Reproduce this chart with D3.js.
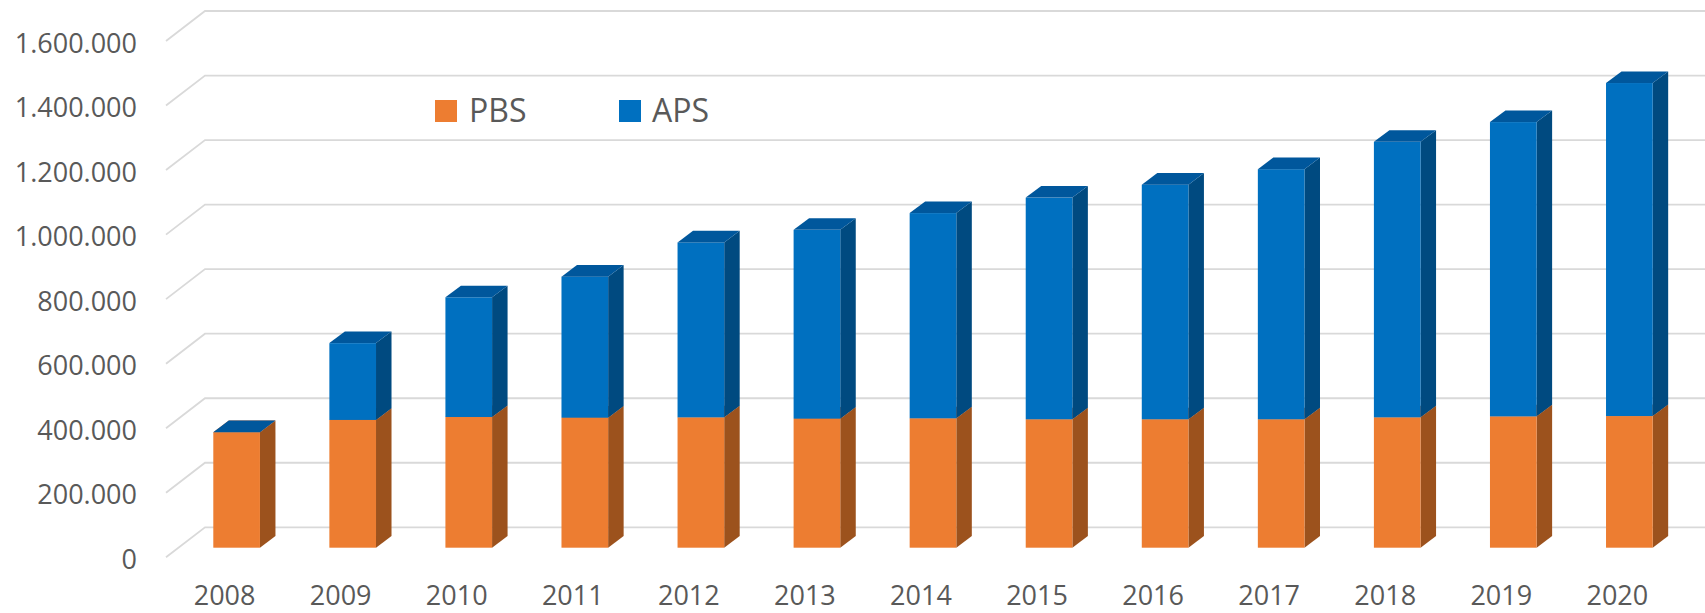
<!DOCTYPE html>
<html>
<head>
<meta charset="utf-8">
<script src="https://cdn.jsdelivr.net/npm/d3@7/dist/d3.min.js"></script>
<style>
  html, body { margin: 0; padding: 0; background: #fff; }
  svg { display: block; }
  text { font-family: "Open Sans", "Noto Sans", sans-serif; fill: #595959; }
</style>
</head>
<body>
<svg id="chart" width="1705" height="613"></svg>
<script>
// ---- data ----
const years = ["2008","2009","2010","2011","2012","2013","2014","2015","2016","2017","2018","2019","2020"];
const PBS = [358000, 396000, 405000, 403000, 404000, 400000, 401000, 398000, 398000, 398000, 404000, 407000, 408000];
const APS = [0, 238000, 371000, 437000, 542000, 585000, 636000, 687000, 727000, 775000, 854000, 912000, 1032000];
const yTicks = [0, 200000, 400000, 600000, 800000, 1000000, 1200000, 1400000, 1600000];
const seriesNames = ["PBS", "APS"];

const colors = {
  PBS: { front: "#ED7D31", side: "#9C521D", top: "#C7652A" },
  APS: { front: "#0070C0", side: "#004A80", top: "#00579C" }
};

const svg = d3.select("#chart");

// back wall value scale
const yWall = d3.scaleLinear().domain([0, 1600000]).range([527.3, 11]);
// wall / floor depth
const wallX = 205, wallFrontX = 166, wallDY = 30;
// bar plane offsets
const barFrontOff = 20.4;   // bar front plane below the wall
const barDX = 15.5, barDY = 11.6; // bar depth projection

const x = d3.scaleBand().domain(years).range([178.6, 178.6 + 13 * 116.06])
  .paddingInner(0.598).paddingOuter(0.299);
const bw = x.bandwidth();

// gridlines
const grid = svg.append("g");
yTicks.forEach(v => {
  const yb = yWall(v);
  grid.append("path")
    .attr("d", `M${wallFrontX},${yb + wallDY}L${wallX},${yb}L1705,${yb}`)
    .attr("fill", "none").attr("stroke", "#D9D9D9").attr("stroke-width", 1.8);
});

// y labels
const numFmt = v => d3.format(",")(v).replace(/,/g, ".");
svg.append("g").selectAll("text").data(yTicks).join("text")
  .attr("x", 137).attr("y", d => yWall(d) + wallDY + 1)
  .attr("text-anchor", "end").attr("dominant-baseline", "central")
  .attr("font-size", 27).text(d => numFmt(d));

// x labels
svg.append("g").selectAll("text").data(years).join("text")
  .attr("x", d => x(d) + bw / 2 - 12).attr("y", 605)
  .attr("text-anchor", "middle").attr("font-size", 27).text(d => d);

// stacked data
const rows = years.map((yr, i) => ({ year: yr, PBS: PBS[i], APS: APS[i] }));
const stack = d3.stack().keys(seriesNames)(rows);

const yFront = v => yWall(v) + barFrontOff;

const bars = svg.append("g");
years.forEach((yr, i) => {
  const g = bars.append("g");
  stack.forEach(layer => {
    const key = layer.key;
    const [v0, v1] = layer[i];
    const x0 = x(yr), x1 = x0 + bw;
    const yb = yFront(v0), yt = yFront(v1);
    // side
    g.append("path")
      .attr("d", `M${x1},${yb}L${x1 + barDX},${yb - barDY}L${x1 + barDX},${yt - barDY}L${x1},${yt}Z`)
      .attr("fill", colors[key].side);
    // front
    g.append("rect")
      .attr("x", x0).attr("y", yt).attr("width", bw).attr("height", Math.max(0, yb - yt))
      .attr("fill", colors[key].front);
    // top
    g.append("path")
      .attr("d", `M${x0},${yt}L${x0 + barDX},${yt - barDY}L${x1 + barDX},${yt - barDY}L${x1},${yt}Z`)
      .attr("fill", colors[key].top);
  });
});

// legend
const legend = svg.append("g");
const legendPos = [{ k: "PBS", sx: 435, tx: 469 }, { k: "APS", sx: 619, tx: 652 }];
legendPos.forEach(l => {
  legend.append("rect").attr("x", l.sx).attr("y", 100).attr("width", 22).attr("height", 22)
    .attr("fill", colors[l.k].front);
  legend.append("text").attr("x", l.tx).attr("y", 122).attr("font-size", 32).text(l.k);
});
</script>
</body>
</html>
